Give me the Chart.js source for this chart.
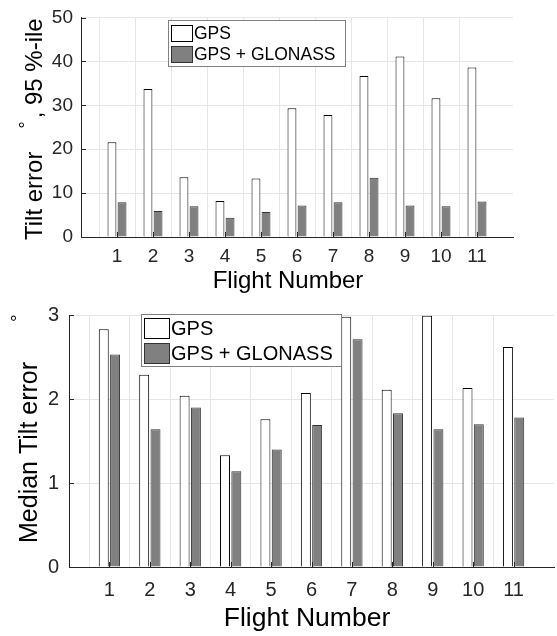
<!DOCTYPE html>
<html>
<head>
<meta charset="utf-8">
<script src="https://cdn.jsdelivr.net/npm/chart.js@4.4.1/dist/chart.umd.min.js"></script>
<style>
  html, body { margin:0; padding:0; background:#fff; overflow:hidden; width:557px; height:636px; }
  #wrapTop { position:absolute; left:0; top:0; width:557px; height:295px; }
  #wrapBot { position:absolute; left:0; top:295px; width:567px; height:341px; }
</style>
</head>
<body>
<div id="wrapTop"><canvas id="top"></canvas></div>
<div id="wrapBot"><canvas id="bot"></canvas></div>
<script>
// flights 1..11, padded with empty slots at both ends (axis runs 0..12)
const flights = ['', '1','2','3','4','5','6','7','8','9','10','11', ''];
const seriesNames = ['GPS', 'GPS + GLONASS'];

// 95th percentile tilt error (deg)
const p95Gps     = [null, 21.6, 33.7, 13.6, 8.2, 13.3, 29.3, 27.8, 36.7, 41.1, 31.6, 38.6, null];
const p95Glonass = [null, 7.9, 5.9, 7.0, 4.4, 5.7, 7.2, 7.9, 13.5, 7.2, 7.0, 8.1, null];

// median tilt error (deg)
const medGps     = [null, 2.83, 2.29, 2.04, 1.33, 1.76, 2.07, 2.98, 2.11, 2.99, 2.13, 2.62, null];
const medGlonass = [null, 2.53, 1.64, 1.90, 1.14, 1.40, 1.69, 2.71, 1.83, 1.64, 1.70, 1.78, null];

const FONT = '"Liberation Sans", Arial, Helvetica, sans-serif';
const INK = '#262626';
const GRID = '#e6e6e6';

// legend box drawn inside the plot area, MATLAB style
const boxLegend = {
  id: 'boxLegend',
  afterDraw(chart, args, o) {
    const ctx = chart.ctx;
    ctx.save();
    ctx.fillStyle = '#fff';
    ctx.fillRect(o.x, o.y, o.w, o.h);
    ctx.strokeStyle = '#808080';
    ctx.lineWidth = 1;
    ctx.strokeRect(o.x + 0.5, o.y + 0.5, o.w, o.h);
    ctx.font = o.size + 'px ' + FONT;
    ctx.textBaseline = 'middle';
    chart.data.datasets.forEach((ds, i) => {
      const sy = o.y + o.sy + i * o.step;
      ctx.fillStyle = ds.backgroundColor;
      ctx.fillRect(o.x + 3, sy, o.sw, o.sh);
      ctx.strokeStyle = ds.borderColor;
      ctx.strokeRect(o.x + 3.5, sy + 0.5, o.sw, o.sh);
      ctx.fillStyle = '#000';
      ctx.fillText(ds.label, o.x + o.sw + 5, sy + o.sh / 2 + 1);
    });
    ctx.restore();
  }
};

// axis titles: rotated y title with a raised degree sign, x title placed by hand
const axisTitles = {
  id: 'axisTitles',
  afterDraw(chart, args, o) {
    const ctx = chart.ctx;
    ctx.save();
    ctx.fillStyle = '#000';
    ctx.textAlign = 'center';
    ctx.textBaseline = 'middle';
    ctx.font = o.xs + 'px ' + FONT;
    ctx.fillText('Flight Number', o.xx, o.xy);

    ctx.textAlign = 'left';
    ctx.textBaseline = 'alphabetic';
    ctx.translate(o.x, o.y);
    ctx.rotate(-Math.PI / 2);
    ctx.font = o.size + 'px ' + FONT;
    ctx.fillText(o.a, 0, 0);
    let u = ctx.measureText(o.a).width + o.gap;
    ctx.font = o.degSize + 'px ' + FONT;
    ctx.fillText('\u00B0', u, -o.degRaise);
    u += ctx.measureText('\u00B0').width + o.gap2;
    ctx.font = o.size + 'px ' + FONT;
    if (o.b) ctx.fillText(o.b, u, 0);
    ctx.restore();
  }
};

// short inward tick marks, as in the original figure
const inTicks = {
  id: 'inTicks',
  afterDatasetsDraw(chart) {
    const {ctx, chartArea: a, scales: {x, y}} = chart;
    ctx.save();
    ctx.strokeStyle = INK;
    ctx.lineWidth = 1;
    ctx.beginPath();
    y.ticks.forEach((t) => {
      const py = Math.round(y.getPixelForValue(t.value)) + 0.5;
      ctx.moveTo(a.left, py); ctx.lineTo(a.left + 5, py);
    });
    flights.forEach((f, i) => {
      if (!f) return;
      const px = Math.round(x.getPixelForValue(i)) + 0.5;
      ctx.moveTo(px, a.bottom); ctx.lineTo(px, a.bottom - 5);
    });
    ctx.stroke();
    ctx.restore();
  }
};

function makeChart(id, a, b, cfg) {
  return new Chart(document.getElementById(id), {
    type: 'bar',
    data: {
      labels: flights,
      datasets: [
        { label: seriesNames[0], data: a, backgroundColor: '#ffffff', borderColor: '#000000', borderWidth: 1 },
        { label: seriesNames[1], data: b, backgroundColor: '#808080', borderColor: '#333333', borderWidth: 1 }
      ]
    },
    options: {
      responsive: true,
      maintainAspectRatio: false,
      animation: false,
      events: [],
      layout: { padding: { left: 0, top: cfg.top, right: cfg.right, bottom: 0 } },
      datasets: { bar: { categoryPercentage: 0.56, barPercentage: 0.88, borderSkipped: 'start' } },
      plugins: {
        legend: { display: false },
        tooltip: { enabled: false },
        boxLegend: cfg.legend,
        axisTitles: cfg.titles
      },
      scales: {
        x: {
          offset: false,
          grid: { color: (c) => c.index === 12 ? 'rgba(0,0,0,0)' : GRID, drawTicks: false },
          border: { color: INK, width: 1 },
          ticks: { color: INK, font: { family: FONT, size: cfg.tick, lineHeight: 1 }, padding: cfg.xpad, maxRotation: 0, autoSkip: false },
          afterFit: (s) => { s.height = cfg.xh; }
        },
        y: {
          min: 0, max: cfg.ymax,
          ticks: { stepSize: cfg.step, color: INK, font: { family: FONT, size: cfg.tick, lineHeight: 1 }, padding: cfg.ypad },
          grid: { color: GRID, drawTicks: false },
          border: { color: INK, width: 1 },
          afterFit: (s) => { s.width = cfg.yw; }
        }
      }
    },
    plugins: [inTicks, boxLegend, axisTitles]
  });
}

makeChart('top', p95Gps, p95Glonass, {
  top: 12, right: 44, yw: 81, xh: 58, ymax: 50, step: 10,
  tick: 19, xpad: 10, ypad: 8,
  legend: { x: 168, y: 20, w: 177, h: 46, sy: 5, step: 21, sw: 21, sh: 16, size: 17.5 },
  titles: { xx: 288, xy: 281, xs: 24,
            x: 42, y: 240, size: 24, a: 'Tilt error', b: ', 95 %-ile', gap: 23, degSize: 18, degRaise: 10, gap2: 3 }
});

makeChart('bot', medGps, medGlonass, {
  top: 12, right: 2, yw: 69, xh: 69, ymax: 3, step: 1,
  tick: 20, xpad: 13, ypad: 10,
  legend: { x: 141, y: 19, w: 200, h: 52, sy: 4, step: 25, sw: 25, sh: 20, size: 20 },
  titles: { xx: 307, xy: 324, xs: 26.5,
            x: 37, y: 248, size: 25, a: 'Median Tilt error', b: '', gap: 40, degSize: 19, degRaise: 13, gap2: 0 }
});
</script>
</body>
</html>
